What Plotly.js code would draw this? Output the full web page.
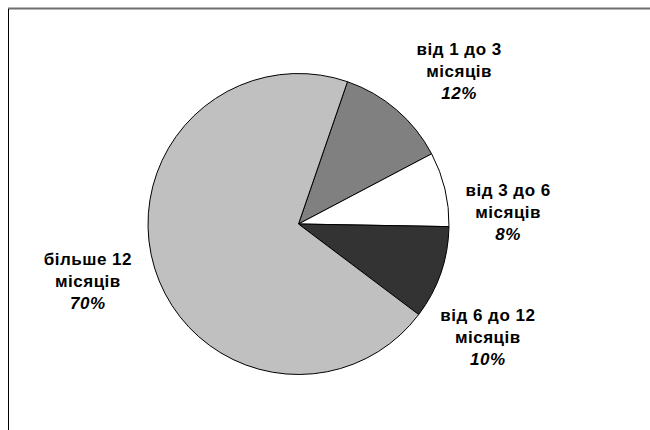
<!DOCTYPE html>
<html>
<head>
<meta charset="utf-8">
<script src="https://cdn.plot.ly/plotly-3.0.1.min.js"></script>
<style>
  html, body { margin: 0; padding: 0; background: #fff; }
  #chart { width: 650px; height: 430px; }
  #chart .annotation-text { letter-spacing: 0.5px; }
</style>
</head>
<body>
<div id="chart"></div>
<script>
// Duration categories (each split into the two printed lines) and their shares, %
const categoryLines = [
  ['від 1 до 3', 'місяців'],
  ['від 3 до 6', 'місяців'],
  ['від 6 до 12', 'місяців'],
  ['більше 12', 'місяців']
];
const shares = [12, 8, 10, 70];
const sliceColors = ['#808080', '#ffffff', '#333333', '#c0c0c0'];

// Label block centres (pixels from the top-left corner of the page)
const labelCentres = [[459, 72], [508, 212], [488, 337], [88, 281]];

const W = 650, H = 430;
const px = x => x / W;
const py = y => 1 - y / H;

const categories = categoryLines.map(l => l.join(' '));

const annotations = categoryLines.map((lines, i) => {
  const [cx, cy] = labelCentres[i];
  const rows = lines.map(t => '<b>' + t + '</b>');
  rows.push('<b><i>' + shares[i] + '%</i></b>');
  return {
    xref: 'paper', yref: 'paper',
    x: px(cx), y: py(cy),
    xanchor: 'center', yanchor: 'middle', align: 'center',
    text: rows.join('<br>'), showarrow: false,
    font: { family: 'Liberation Sans, Arial, sans-serif', size: 17, color: '#000' }
  };
});

const trace = {
  type: 'pie',
  labels: categories,
  values: shares,
  sort: false,
  direction: 'clockwise',
  rotation: 19,
  marker: { colors: sliceColors, line: { color: '#000', width: 1 } },
  textinfo: 'none',
  hoverinfo: 'label+percent',
  showlegend: false,
  domain: { x: [px(148), px(449)], y: [py(375), py(73)] }
};

const layout = {
  width: W, height: H,
  margin: { l: 0, r: 0, t: 0, b: 0 },
  paper_bgcolor: '#fff',
  showlegend: false,
  annotations: annotations,
  shapes: [
    // chart-area frame: grey top edge, black left edge
    { type: 'line', xref: 'paper', yref: 'paper', x0: px(8), x1: 1.05, y0: py(8.5), y1: py(8.5),
      line: { color: '#6e6e6e', width: 2 } },
    { type: 'line', xref: 'paper', yref: 'paper', x0: px(8.5), x1: px(8.5), y0: py(9), y1: -0.05,
      line: { color: '#000', width: 1 } }
  ]
};

Plotly.newPlot('chart', [trace], layout, { staticPlot: true });
</script>
</body>
</html>
